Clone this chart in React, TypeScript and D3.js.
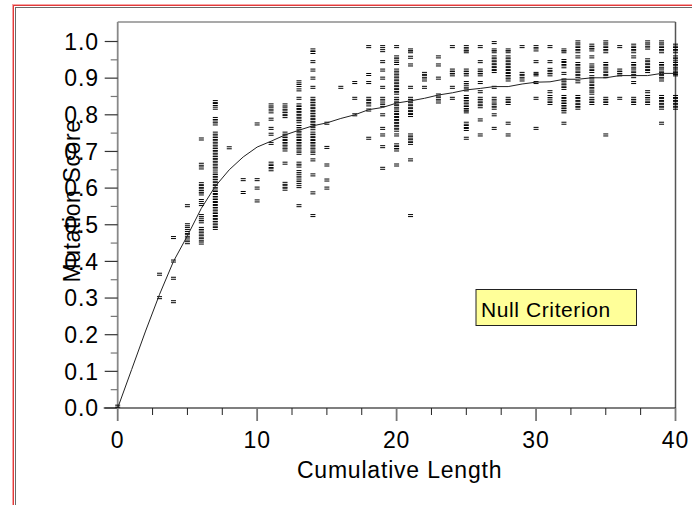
import React from 'react';
import * as d3 from 'd3';

// Cumulative length values with observed mutation scores
const lengths = [0, 3, 4, 5, 6, 7, 8, 9, 10, 11, 12, 13, 14, 15, 16, 17, 18, 19, 20,
  21, 22, 23, 24, 25, 26, 27, 28, 29, 30, 31, 32, 33, 34, 35, 36, 37, 38, 39, 40];

const scores: number[][] = [
  [0.005],
  [0.365, 0.301],
  [0.465, 0.401, 0.354, 0.29],
  [0.552, 0.50, 0.49, 0.479, 0.47, 0.461, 0.451],
  [0.734, 0.665, 0.655, 0.612, 0.604, 0.597, 0.59, 0.584, 0.566, 0.555, 0.525, 0.515, 0.508, 0.49, 0.483, 0.475, 0.467, 0.459, 0.45],
  [0.836, 0.828, 0.818, 0.79, 0.783, 0.775, 0.75, 0.742, 0.735, 0.728, 0.72, 0.712, 0.705, 0.698, 0.69, 0.683, 0.676, 0.668, 0.66, 0.652, 0.641, 0.634, 0.627, 0.62, 0.612, 0.604, 0.595, 0.588, 0.58, 0.573, 0.566, 0.558, 0.55, 0.543, 0.535, 0.528, 0.52, 0.512, 0.505, 0.497, 0.49],
  [0.71],
  [0.623, 0.588],
  [0.775, 0.623, 0.6, 0.565],
  [0.827, 0.818, 0.808, 0.788, 0.763, 0.747, 0.722, 0.668, 0.659, 0.65],
  [0.827, 0.818, 0.81, 0.803, 0.795, 0.75, 0.742, 0.735, 0.727, 0.72, 0.712, 0.704, 0.668, 0.613, 0.605, 0.597],
  [0.89, 0.88, 0.868, 0.845, 0.827, 0.82, 0.812, 0.804, 0.796, 0.788, 0.781, 0.768, 0.758, 0.75, 0.742, 0.735, 0.727, 0.72, 0.712, 0.704, 0.695, 0.668, 0.66, 0.645, 0.635, 0.625, 0.615, 0.604, 0.552],
  [0.977, 0.97, 0.945, 0.922, 0.9, 0.875, 0.845, 0.837, 0.83, 0.822, 0.815, 0.807, 0.8, 0.792, 0.785, 0.777, 0.77, 0.762, 0.75, 0.743, 0.735, 0.727, 0.72, 0.712, 0.704, 0.695, 0.677, 0.636, 0.587, 0.525],
  [0.777, 0.711, 0.663, 0.622, 0.6],
  [0.875],
  [0.888, 0.845, 0.8],
  [0.986, 0.91, 0.888, 0.845, 0.836, 0.827, 0.813, 0.736],
  [0.986, 0.975, 0.945, 0.922, 0.9, 0.875, 0.845, 0.835, 0.825, 0.8, 0.763, 0.745, 0.713, 0.654],
  [0.986, 0.958, 0.95, 0.94, 0.922, 0.914, 0.906, 0.898, 0.89, 0.882, 0.874, 0.866, 0.859, 0.845, 0.838, 0.83, 0.822, 0.813, 0.806, 0.798, 0.79, 0.782, 0.774, 0.766, 0.758, 0.745, 0.718, 0.711, 0.704, 0.663],
  [0.977, 0.972, 0.957, 0.936, 0.875, 0.845, 0.838, 0.83, 0.822, 0.814, 0.806, 0.798, 0.745, 0.737, 0.729, 0.722, 0.677, 0.525],
  [0.913, 0.905, 0.895, 0.875],
  [0.958, 0.936, 0.9, 0.854, 0.845, 0.835],
  [0.986, 0.922, 0.915, 0.909, 0.875, 0.845],
  [0.986, 0.977, 0.972, 0.922, 0.915, 0.909, 0.888, 0.878, 0.868, 0.85, 0.842, 0.835, 0.827, 0.82, 0.813, 0.808, 0.777, 0.768, 0.76, 0.736],
  [0.986, 0.945, 0.922, 0.915, 0.909, 0.888, 0.863, 0.845, 0.838, 0.83, 0.822, 0.786, 0.745],
  [0.997, 0.977, 0.972, 0.958, 0.95, 0.942, 0.934, 0.926, 0.918, 0.875, 0.845, 0.835, 0.826, 0.818, 0.8, 0.763],
  [0.977, 0.972, 0.958, 0.95, 0.942, 0.934, 0.926, 0.918, 0.91, 0.903, 0.895, 0.845, 0.838, 0.831, 0.777, 0.745],
  [0.986, 0.913, 0.905, 0.895],
  [0.986, 0.977, 0.945, 0.913, 0.909, 0.888, 0.845, 0.763],
  [0.986, 0.945, 0.924, 0.916, 0.909, 0.863, 0.85, 0.84, 0.831],
  [0.977, 0.972, 0.948, 0.94, 0.931, 0.913, 0.895, 0.887, 0.879, 0.872, 0.85, 0.842, 0.835, 0.828, 0.821, 0.815, 0.808, 0.777],
  [0.999, 0.99, 0.981, 0.972, 0.958, 0.94, 0.931, 0.922, 0.913, 0.904, 0.89, 0.85, 0.842, 0.833, 0.825, 0.818],
  [0.99, 0.983, 0.977, 0.958, 0.936, 0.927, 0.918, 0.904, 0.895, 0.886, 0.877, 0.868, 0.859, 0.845, 0.838, 0.831],
  [0.999, 0.99, 0.981, 0.972, 0.94, 0.931, 0.922, 0.913, 0.904, 0.845, 0.838, 0.831, 0.745],
  [0.986, 0.922, 0.915, 0.909, 0.845],
  [0.99, 0.981, 0.972, 0.958, 0.94, 0.931, 0.922, 0.913, 0.904, 0.888, 0.845, 0.838, 0.831],
  [0.999, 0.99, 0.982, 0.95, 0.942, 0.934, 0.926, 0.918, 0.863, 0.85, 0.84, 0.831],
  [0.999, 0.99, 0.981, 0.972, 0.94, 0.931, 0.922, 0.913, 0.904, 0.895, 0.85, 0.842, 0.834, 0.826, 0.818, 0.777],
  [0.99, 0.981, 0.972, 0.958, 0.95, 0.94, 0.931, 0.922, 0.913, 0.909, 0.85, 0.842, 0.834, 0.826, 0.818],
];

// Mean ("Null Criterion") curve
const meanLength = [0, 1, 2, 3, 4, 5, 6, 7, 8, 9, 10, 11, 12, 13, 14, 15, 16, 17, 18, 19, 20,
  21, 22, 23, 24, 25, 26, 27, 28, 29, 30, 31, 32, 33, 34, 35, 36, 37, 38, 39, 40];
const meanScore = [0.0, 0.105, 0.21, 0.31, 0.40, 0.47, 0.545, 0.605, 0.65, 0.685, 0.712,
  0.728, 0.745, 0.758, 0.77, 0.778, 0.79, 0.80, 0.814, 0.82, 0.832,
  0.838, 0.845, 0.854, 0.86, 0.868, 0.872, 0.877, 0.877, 0.884, 0.889,
  0.89, 0.897, 0.897, 0.901, 0.901, 0.907, 0.907, 0.907, 0.913, 0.913];

const yMajorTicks = [0, 0.1, 0.2, 0.3, 0.4, 0.5, 0.6, 0.7, 0.8, 0.9, 1.0];
const yMinorTicks = [0.05, 0.15, 0.25, 0.35, 0.45, 0.55, 0.65, 0.75, 0.85, 0.95];
const xMajorTicks = [0, 10, 20, 30, 40];
const xMinorTicks = [2.5, 5, 7.5, 12.5, 15, 17.5, 22.5, 25, 27.5, 32.5, 35, 37.5];

const xLabel = 'Cumulative Length';
const yLabel = 'Mutation Score';
const legendLabel = 'Null Criterion';

const W = 692;
const H = 505;
const FONT = '"Liberation Sans", Arial, sans-serif';

export default function App() {
  const x = d3.scaleLinear().domain([0, 40]).range([117.7, 675.5]);
  const y = d3.scaleLinear().domain([0, 1]).range([408, 41.5]);
  const plotTop = 22;

  const line = d3.line<number>()
    .x((_, i) => x(meanLength[i]))
    .y((d) => y(d));

  const marks: { cx: number; cy: number; key: string }[] = [];
  lengths.forEach((len, i) => {
    scores[i].forEach((s, j) => {
      marks.push({ cx: x(len), cy: y(s), key: `${i}-${j}` });
    });
  });

  return (
    <svg width={W} height={H} style={{ position: 'absolute', left: 0, top: 0, display: 'block', background: '#fff' }}
      fontFamily={FONT}>
      {/* outer frame */}
      <rect x={12.5} y={4.5} width={800} height={700} fill="none" stroke="#f6a4a4" strokeWidth={1} />
      <rect x={13.5} y={5.5} width={800} height={700} fill="none" stroke="#e23a3a" strokeWidth={1} />
      <rect x={15.5} y={7.5} width={800} height={700} fill="none" stroke="#6a6a6a" strokeWidth={1} />

      {/* plot frame */}
      <line x1={x(0)} x2={x(40)} y1={plotTop} y2={plotTop} stroke="#555" strokeWidth={1.2} />
      <line x1={x(40)} x2={x(40)} y1={plotTop} y2={y(0)} stroke="#555" strokeWidth={1.5} />
      <line x1={x(0)} x2={x(0)} y1={plotTop} y2={y(0)} stroke="#888" strokeWidth={1.8} />
      <line x1={x(0) - 14} x2={x(40)} y1={y(0)} y2={y(0)} stroke="#000" strokeWidth={1.2} />

      {/* y ticks */}
      {yMajorTicks.map((t) => (
        <g key={`ym${t}`}>
          <line x1={x(0) - 13} x2={x(0)} y1={y(t)} y2={y(t)} stroke="#333" strokeWidth={1.2} />
          <text x={99} y={y(t)} dy="0.36em" textAnchor="end" fontSize={23} letterSpacing={0.9} fill="#000">
            {t.toFixed(1)}
          </text>
        </g>
      ))}
      {yMinorTicks.map((t) => (
        <line key={`yn${t}`} x1={x(0) - 7} x2={x(0)} y1={y(t)} y2={y(t)} stroke="#777" strokeWidth={1.2} />
      ))}

      {/* x ticks */}
      {xMajorTicks.map((t) => (
        <g key={`xm${t}`}>
          <line x1={x(t)} x2={x(t)} y1={y(0)} y2={y(0) + 13} stroke="#777" strokeWidth={1.8} />
          <text x={x(t)} y={447.5} textAnchor="middle" fontSize={23} letterSpacing={0.9} fill="#000">
            {t}
          </text>
        </g>
      ))}
      {xMinorTicks.map((t) => (
        <line key={`xn${t}`} x1={x(t)} x2={x(t)} y1={y(0)} y2={y(0) + 7} stroke="#222" strokeWidth={1} />
      ))}

      {/* scatter marks */}
      {marks.map((m) => (
        <path key={m.key}
          d={`M${m.cx - 2.5},${m.cy - 1}h5M${m.cx - 2.5},${m.cy + 1}h5`}
          stroke="#000" strokeWidth={1} fill="none" />
      ))}

      {/* mean curve */}
      <path d={line(meanScore) || ''} fill="none" stroke="#222" strokeWidth={1} />

      {/* axis titles */}
      <text x={(x(0) + x(40)) / 2 + 3} y={478} textAnchor="middle" fontSize={23} letterSpacing={0.8} fill="#000">
        {xLabel}
      </text>
      <text transform={`translate(80,201) rotate(-90)`} textAnchor="middle" fontSize={23} letterSpacing={0.6} fill="#000">
        {yLabel}
      </text>

      {/* legend */}
      <rect x={476} y={289.5} width={160.5} height={36} fill="#ffff99" stroke="#222" strokeWidth={1} />
      <text x={481} y={316.5} fontSize={21} letterSpacing={0.6} fill="#000">{legendLabel}</text>
    </svg>
  );
}
